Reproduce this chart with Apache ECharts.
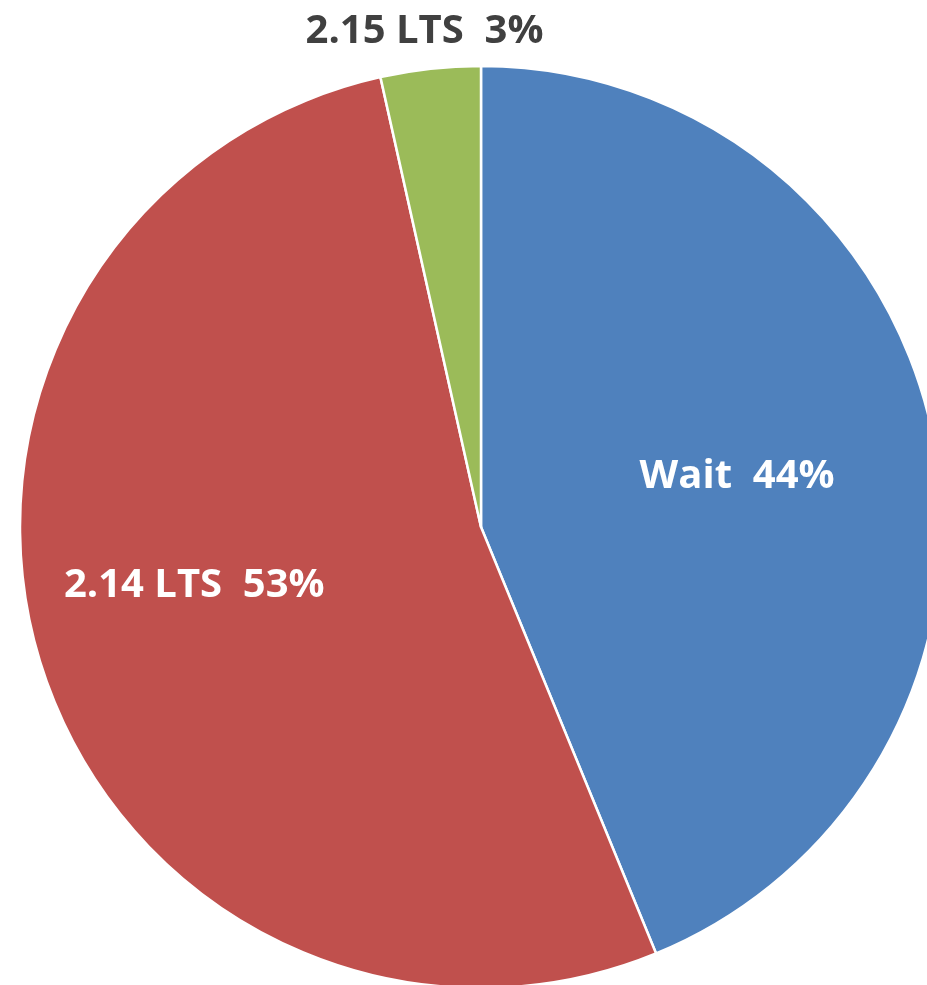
<!DOCTYPE html>
<html>
<head>
<meta charset="utf-8">
<script src="https://cdn.jsdelivr.net/npm/echarts@6/dist/echarts.min.js"></script>
<style>
  html, body { margin: 0; padding: 0; background: #fff; }
  #chart { width: 927px; height: 985px; }
</style>
</head>
<body>
<div id="chart"></div>
<script>
// slice names, share and the printed percent labels
const names = ['Wait', '2.14 LTS', '2.15 LTS']
const shares = [43.8, 52.7, 3.5]
const pctLabels = [44, 53, 3]
const colors = ['#4F81BD', '#C0504D', '#9BBB59']

// nudge labels to where the original placed them
const labelStyle = [
  { position: 'inside', color: '#fff', offset: [27, -5] },
  { position: 'inside', color: '#fff', offset: [-64, -11] },
  { position: 'outside', color: '#404040', offset: [118, -37] }
]

const chart = echarts.init(document.getElementById('chart'))

const dataList = names.map((name, i) => ({
  name: name,
  value: shares[i],
  itemStyle: { color: colors[i] },
  label: labelStyle[i]
}))

chart.setOption({
  animation: false,
  series: [{
    type: 'pie',
    center: [481, 527],
    radius: 461,
    startAngle: 90,
    clockwise: true,
    avoidLabelOverlap: false,
    data: dataList,
    itemStyle: {
      borderColor: '#fff',
      borderWidth: 2.5
    },
    label: {
      show: true,
      fontFamily: 'Open Sans',
      fontWeight: 'bold',
      fontSize: 40,
      formatter: p => p.name + '  ' + pctLabels[p.dataIndex] + '%'
    },
    labelLine: { show: false, length: 0, length2: 0 },
    emphasis: { disabled: true }
  }]
})
</script>
</body>
</html>
